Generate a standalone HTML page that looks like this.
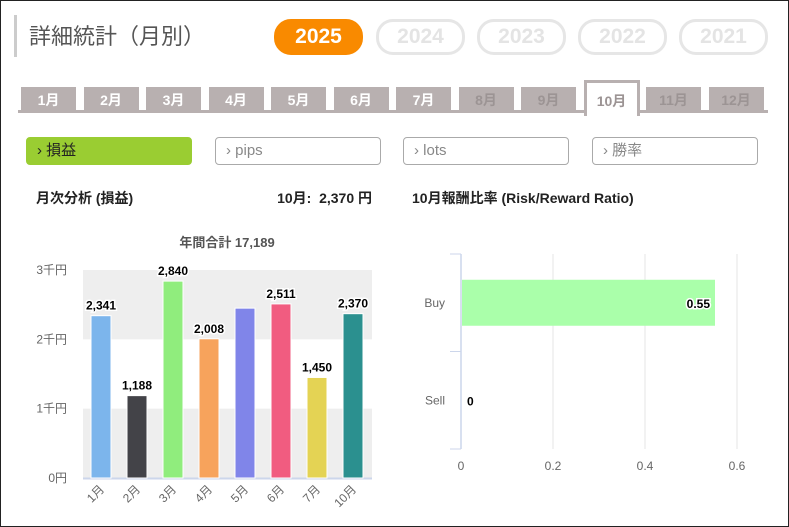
<!DOCTYPE html>
<html><head><meta charset="utf-8"><style>
body{margin:0;width:789px;height:527px;overflow:hidden;background:#fff;font-family:"Liberation Sans","Noto Sans CJK JP",sans-serif}
#frame{position:absolute;left:0;top:0;width:787px;height:525px;border:1px solid #222}
.abs{position:absolute}
.pill{position:absolute;top:19px;height:30px;width:83px;border:3px solid #e6e6e6;border-radius:17px;color:#e4e4e4;font-weight:bold;font-size:21px;text-align:center;line-height:30px}
.tab{position:absolute;top:87px;width:55px;height:24px;background:#b8b0b0;color:#fff;font-weight:bold;font-size:14px;text-align:center;line-height:26px}
.tab.dim{color:#9c9494}
.btn{position:absolute;top:137px;height:28px;width:166px;border:1px solid #aaa;border-radius:4px;box-sizing:border-box;color:#888;font-size:15px;line-height:26px;padding-left:10px}
.h{position:absolute;top:188px;font-weight:bold;font-size:14px;color:#222}
</style></head><body>
<div id="frame"></div>
<div class="abs" style="left:14px;top:15px;width:3px;height:42px;background:#ccc"></div>
<div class="abs" style="left:29px;top:19px;font-size:22px;color:#555">詳細統計（月別）</div>
<div class="pill" style="left:274px;border-color:#f98a00;background:#f98a00;color:#fff">2025</div>
<div class="pill" style="left:376px">2024</div>
<div class="pill" style="left:477px">2023</div>
<div class="pill" style="left:578px">2022</div>
<div class="pill" style="left:679px">2021</div>
<div class="abs" style="left:18px;top:110px;width:750px;height:3px;background:#b8b0b0"></div>
<div id="tabs"></div>
<div class="btn" style="left:26px;background:#9acd32;border-color:#9acd32;color:#222">› 損益</div>
<div class="btn" style="left:215px">› pips</div>
<div class="btn" style="left:403px">› lots</div>
<div class="btn" style="left:592px">› 勝率</div>
<div class="h" style="left:36px">月次分析 (損益)</div>
<div class="h" style="right:417px">10月:&nbsp; 2,370 円</div>
<div class="h" style="left:412px">10月報酬比率 (Risk/Reward Ratio)</div>
<svg class="abs" style="left:0;top:0" width="789" height="527" id="svg"></svg>
<script>
const months=['1月','2月','3月','4月','5月','6月','7月','8月','9月','10月','11月','12月'];
const activeMonthIdx=9;
const categories=['1月','2月','3月','4月','5月','6月','7月','10月'];
const profits=[2341,1188,2840,2008,2450,2511,1450,2370];
const showLabel=[true,true,true,true,false,true,true,true];
const colors=['#7cb5ec','#434348','#90ed7d','#f7a35c','#8085e9','#f15c80','#e4d354','#2b908f'];
const yTicks=[0,1000,2000,3000];
const yTickLabels=['0円','1千円','2千円','3千円'];
const rrCats=['Buy','Sell'];
const rrVals=[0.55,0];
const xTicks=[0,0.2,0.4,0.6];

const tabs=document.getElementById('tabs');
months.forEach((m,i)=>{
  const d=document.createElement('div');
  d.className='tab'+(i>6&&i!==activeMonthIdx?' dim':'');
  
  
  d.style.left=(21+i*62.5)+'px';
  d.textContent=m;
  if(i===activeMonthIdx){d.style.background='#fff';d.style.color='#9c9494';d.style.border='3px solid #b8b0b0';d.style.borderBottom='none';d.style.top='80px';d.style.height='33px';d.style.lineHeight='36px';d.style.width='50px';}
  tabs.appendChild(d);
});
const svg=document.getElementById('svg');
const NS='http://www.w3.org/2000/svg';
function el(t,a,txt){const e=document.createElementNS(NS,t);for(const k in a)e.setAttribute(k,a[k]);if(txt!==undefined)e.textContent=txt;svg.appendChild(e);return e;}
const px0=83,px1=372,py0=478,py1=270;
const y=v=>py0-(v/3000)*(py0-py1);
const bx=i=>px0+18+i*36;
let t=el('text',{x:227,y:247,'text-anchor':'middle','font-size':13,'font-weight':'bold',fill:'#555'},'年間合計 17,189');

for(let k=0;k<3;k++){if(k%2===0){const r=el('rect',{x:px0,y:y(yTicks[k+1]),width:px1-px0,height:y(yTicks[k])-y(yTicks[k+1]),fill:'#eeeeee'});}}
yTicks.forEach((v,k)=>{const tt=el('text',{x:67,y:y(v)+4,'text-anchor':'end','font-size':12,fill:'#666'},yTickLabels[k]);});
const ax=el('line',{x1:px0,x2:px1,y1:py0+0.5,y2:py0+0.5,stroke:'#ccd6eb','stroke-width':2});

profits.forEach((v,i)=>{
  const r=el('rect',{x:bx(i)-10,y:y(v),width:20,height:py0-y(v),fill:colors[i],stroke:'#fff','stroke-width':1});
  
  if(showLabel[i]){const l=el('text',{x:bx(i),y:y(v)-6,'text-anchor':'middle','font-size':12,'font-weight':'bold',fill:'#000',stroke:'#fff','stroke-width':3,'paint-order':'stroke'},v.toLocaleString('en-US'));
  }
  const c=el('text',{x:bx(i)+4,y:490,'text-anchor':'end','font-size':12,fill:'#666',transform:`rotate(-45 ${bx(i)+4} 490)`},categories[i]);
  
});
const rx0=461,rxs=460,ry0=254,ry1=449;
const xr=v=>rx0+v*rxs;
const bandH=(ry1-ry0)/rrCats.length;
xTicks.forEach(v=>{
  if(v>0){const g=el('line',{x1:xr(v),x2:xr(v),y1:ry0,y2:ry1,stroke:'#e6e6e6'});}
  const l=el('text',{x:xr(v),y:470,'text-anchor':'middle','font-size':12,fill:'#666'},String(v));
  
});
const ya=el('line',{x1:rx0,x2:rx0,y1:ry0,y2:ry1,stroke:'#ccd6eb','stroke-width':1.5});

for(let k=0;k<=rrCats.length;k++){const tk=el('line',{x1:450,x2:rx0,y1:ry0+k*bandH,y2:ry0+k*bandH,stroke:'#ccd6eb'});}
rrCats.forEach((c,i)=>{
  const cy=ry0+bandH*(i+0.5);
  const l=el('text',{x:445,y:cy+4,'text-anchor':'end','font-size':12,fill:'#666'},c);
  
  const w=xr(rrVals[i])-rx0;
  if(w>0){const r=el('rect',{x:rx0+1,y:cy-23,width:w,height:46,fill:'#aaffaa'});}
  const vx=w>0?xr(rrVals[i])-4:rx0+6;
  const vl=el('text',{x:vx,y:cy+5,'text-anchor':w>0?'end':'start','font-size':12,'font-weight':'bold',fill:'#000',stroke:'#fff','stroke-width':3,'paint-order':'stroke'},String(rrVals[i]));
  
});
</script>
</body></html>
